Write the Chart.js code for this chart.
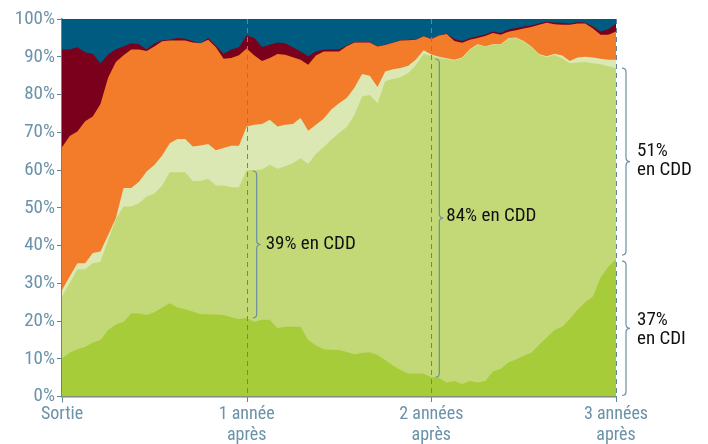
<!DOCTYPE html>
<html><head><meta charset="utf-8">
<script src="https://cdn.jsdelivr.net/npm/chart.js@4.4.1/dist/chart.umd.min.js"></script>
<style>html,body{margin:0;padding:0;background:#fff}</style>
</head><body>
<canvas id="c" width="708" height="444" style="width:708px;height:444px;display:block"></canvas>
<script>
// Half-month steps from exit (0) to 3 years (72)
const periods = Array.from({length: 73}, (_, i) => i);
const tickPositions = [0, 24, 48, 72];
const tickLabels = ['Sortie', ['1 année', 'après'], ['2 années', 'après'], ['3 années', 'après']];

// Cumulative shares (%), bottom to top
const cumCDI = [10.1,11.6,12.5,13.1,14.3,15.0,17.6,19.1,19.8,22.0,22.0,21.6,22.3,23.5,24.7,23.6,23.1,22.5,21.8,21.8,21.7,21.6,21.0,20.5,20.8,19.8,20.3,20.3,18.1,18.5,18.5,18.5,15.0,13.5,12.5,12.4,12.3,11.8,11.2,11.5,11.7,11.0,9.7,8.2,7.0,6.1,6.1,6.0,5.1,5.0,3.7,4.1,3.3,4.1,3.7,4.1,6.6,7.3,9.0,9.8,10.8,11.6,13.7,15.6,17.6,18.5,20.5,23.0,25.0,26.5,31.5,34.4,36.4];
const cumCDD = [26.5,30.0,33.7,33.7,35.3,35.7,41.5,47.0,50.3,50.3,51.2,53.0,53.8,55.8,59.4,59.4,59.4,57.1,57.1,57.7,55.9,55.9,55.4,55.4,60.0,60.0,60.1,61.4,60.3,61.0,61.8,63.1,61.6,64.3,66.0,68.0,69.8,71.4,74.5,79.5,79.9,77.7,83.5,84.1,84.6,85.7,87.8,90.8,90.2,89.7,89.4,89.0,89.6,91.8,93.2,92.7,93.2,93.2,94.8,95.0,94.0,92.5,90.5,89.9,90.5,89.6,88.3,88.5,88.6,88.3,88.0,87.5,87.0];
const cumAutres = [28.2,31.8,35.3,35.3,38.0,38.4,42.8,47.3,55.2,55.2,56.9,59.6,61.3,63.8,67.1,68.2,68.2,66.2,66.5,66.9,65.2,65.8,66.4,66.4,71.5,72.0,72.2,73.3,71.5,72.0,72.2,73.8,70.4,72.0,73.6,76.0,77.7,79.1,81.8,85.4,85.0,82.0,86.1,86.7,87.0,87.6,89.3,91.7,90.6,90.0,89.6,89.2,89.8,92.0,93.3,92.8,93.3,93.3,94.9,95.1,94.2,92.7,90.7,90.1,90.8,90.3,88.9,89.8,90.0,89.8,89.5,89.2,89.2];
const cumChomage = [66.0,69.0,70.2,72.9,74.2,77.5,84.5,88.6,90.4,91.9,91.9,91.5,92.7,94.1,94.3,94.3,94.3,93.8,93.6,94.5,92.5,89.5,89.7,90.4,92.2,90.3,88.9,89.7,90.7,90.5,89.9,89.2,87.9,90.3,91.4,91.4,91.4,92.8,93.8,93.8,93.8,92.7,93.1,93.7,94.3,94.4,94.5,95.4,94.7,95.6,96.0,94.2,93.7,94.5,95.0,95.5,96.3,95.8,96.6,97.0,97.5,97.9,98.5,99.0,98.6,98.5,98.5,98.8,98.8,97.5,95.8,95.8,96.7];
const cumInactivite = [91.9,91.9,92.5,91.2,90.7,88.3,90.6,92.0,92.7,93.6,93.3,91.9,93.5,94.4,94.5,95.0,94.8,94.1,93.6,95.0,92.9,90.8,91.9,92.5,95.6,95.0,92.6,93.2,93.8,93.6,92.5,91.4,90.1,91.4,91.9,91.9,91.9,93.0,93.9,93.9,93.9,92.8,93.2,93.8,94.4,94.5,94.6,95.5,94.8,95.7,96.1,94.7,94.2,94.9,95.4,95.9,96.7,96.3,97.2,97.6,98.0,98.3,98.9,99.3,99.1,99.0,98.8,99.2,99.1,98.0,96.7,97.3,98.8];
const cumTotal = [100,100,100,100,100,100,100,100,100,100,100,100,100,100,100,100,100,100,100,100,100,100,100,100,100,100,100,100,100,100,100,100,100,100,100,100,100,100,100,100,100,100,100,100,100,100,100,100,100,100,100,100,100,100,100,100,100,100,100,100,100,100,100,100,100,100,100,100,100,100,100,100,100];
const yTicks = [0,10,20,30,40,50,60,70,80,90,100];

const FONT = "'Liberation Sans Narrow', 'Roboto Condensed', Roboto, 'Liberation Sans', sans-serif";
const AXIS = '#5b87a0';
const LABEL = '#6a92a8';

const layers = [
  {label: 'CDI', data: cumCDI, color: '#a6cc39'},
  {label: 'CDD', data: cumCDD, color: '#c3d977'},
  {label: 'Autres contrats', data: cumAutres, color: '#dbe8b3'},
  {label: 'Chômage', data: cumChomage, color: '#f37c2b'},
  {label: 'Inactivité', data: cumInactivite, color: '#7b001b'},
  {label: 'Études', data: cumTotal, color: '#005b80'}
];

const overlay = {
  id: 'overlay',
  afterDraw(chart) {
    const {ctx, chartArea: ca, scales: {x, y}} = chart;
    ctx.save();
    // dashed year lines
    ctx.strokeStyle = AXIS; ctx.lineWidth = 1; ctx.setLineDash([5, 4]);
    [24, 48, 72].forEach(i => {
      const px = Math.round(x.getPixelForValue(i)) + 0.5;
      ctx.beginPath(); ctx.moveTo(px, ca.top); ctx.lineTo(px, ca.bottom + 7); ctx.stroke();
    });
    ctx.setLineDash([]);
    // braces
    function brace(px, yTop, yBot) {
      const w = 4, ym = (yTop + yBot) / 2;
      ctx.beginPath();
      ctx.moveTo(px - w, yTop);
      ctx.quadraticCurveTo(px, yTop, px, yTop + w);
      ctx.lineTo(px, ym - w);
      ctx.quadraticCurveTo(px, ym, px + w, ym);
      ctx.quadraticCurveTo(px, ym, px, ym + w);
      ctx.lineTo(px, yBot - w);
      ctx.quadraticCurveTo(px, yBot, px - w, yBot);
      ctx.stroke();
      return ym;
    }
    ctx.strokeStyle = '#6b8fa4'; ctx.lineWidth = 1.2;
    ctx.fillStyle = '#111'; ctx.font = "19px " + FONT; ctx.textBaseline = 'middle';
    let px = x.getPixelForValue(24) + 10;
    let m = brace(px, y.getPixelForValue(cumCDD[24]) + 1, y.getPixelForValue(cumCDI[24]));
    ctx.fillText('39% en CDD', px + 9, m);
    px = x.getPixelForValue(48) + 8;
    m = brace(px, y.getPixelForValue(cumCDD[48]) + 3, y.getPixelForValue(cumCDI[48]));
    ctx.fillText('84% en CDD', px + 7, m - 2);
    px = x.getPixelForValue(72) + 10;
    m = brace(px, y.getPixelForValue(cumCDD[72]), y.getPixelForValue(cumCDI[72]) - 4);
    ctx.fillText('51%', px + 11, m - 10); ctx.fillText('en CDD', px + 11, m + 9);
    m = brace(px, y.getPixelForValue(cumCDI[72]) + 2, y.getPixelForValue(0) - 1);
    ctx.fillText('37%', px + 11, m - 8); ctx.fillText('en CDI', px + 11, m + 11);
    ctx.restore();
  }
};

new Chart(document.getElementById('c'), {
  type: 'line',
  data: {
    labels: periods,
    datasets: layers.map(l => ({
      label: l.label, data: l.data, backgroundColor: l.color, borderColor: l.color,
      borderWidth: 0, pointRadius: 0, fill: 'origin', tension: 0
    }))
  },
  options: {
    responsive: false, animation: false, devicePixelRatio: 1,
    layout: {padding: {top: 19, right: 92, left: 0, bottom: 0}},
    plugins: {legend: {display: false}, tooltip: {enabled: false}},
    scales: {
      x: {
        type: 'category',
        afterFit: s => { s.height = 47.5; },
        grid: {display: true, drawOnChartArea: false, drawTicks: true, tickLength: 6,
               color: ctx => ctx.index === 0 ? AXIS : 'transparent'},
        border: {display: true, color: AXIS, width: 1.5},
        ticks: {
          autoSkip: false, maxRotation: 0, padding: 1, color: LABEL,
          font: {family: FONT, size: 18}, lineHeight: 1.05,
          callback: (v, i) => { const k = tickPositions.indexOf(i); return k >= 0 ? tickLabels[k] : null; }
        }
      },
      y: {
        min: 0, max: 100,
        afterFit: s => { s.width = 62; },
        afterBuildTicks: s => { s.ticks = yTicks.map(v => ({value: v})); },
        grid: {display: true, drawOnChartArea: false, drawTicks: true, tickLength: 5, color: AXIS},
        border: {display: true, color: AXIS, width: 1.5},
        ticks: {color: LABEL, padding: 2, font: {family: FONT, size: 19}, callback: v => v + '%'}
      }
    }
  },
  plugins: [overlay]
});
</script>
</body></html>
